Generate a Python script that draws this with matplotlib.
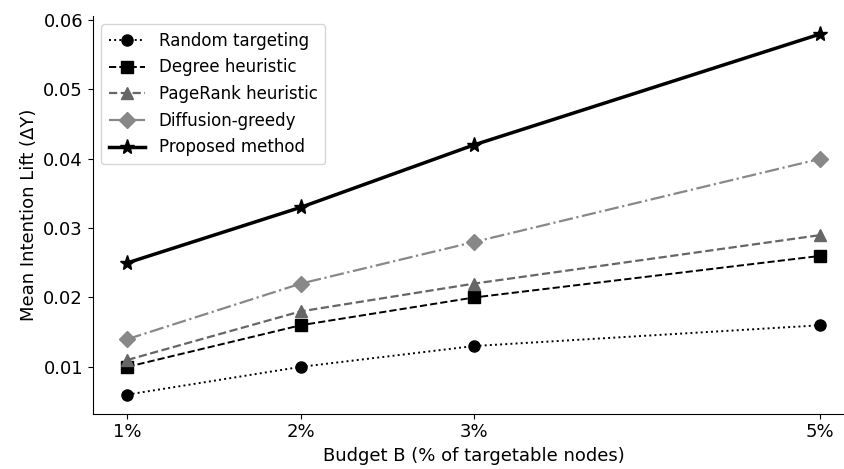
import matplotlib
matplotlib.use("Agg")
import matplotlib.pyplot as plt

budgets = [1, 2, 3, 5]
budget_labels = ["1%", "2%", "3%", "5%"]

random_lift = [0.006, 0.010, 0.013, 0.016]
degree_lift = [0.010, 0.016, 0.020, 0.026]
pagerank_lift = [0.011, 0.018, 0.022, 0.029]
diffusion_lift = [0.014, 0.022, 0.028, 0.040]
proposed_lift = [0.025, 0.033, 0.042, 0.058]

fig = plt.figure(figsize=(8.44, 4.69), dpi=100)
ax = fig.add_axes([0.110, 0.118, 0.903, 0.848])

ax.plot(budgets, random_lift, linestyle=":", marker="o", color="black",
        markersize=8, linewidth=1.4, label="Random targeting")
ax.plot(budgets, degree_lift, linestyle="--", marker="s", color="black",
        markersize=8, linewidth=1.4, label="Degree heuristic")
ax.plot(budgets, pagerank_lift, linestyle="--", marker="^", color="#666666",
        markersize=8, linewidth=1.6, label="PageRank heuristic")
ax.plot(budgets, diffusion_lift, linestyle="-.", marker="D", color="#888888",
        markersize=8, linewidth=1.6, label="Diffusion-greedy")
ax.plot(budgets, proposed_lift, linestyle="-", marker="*", color="black",
        markersize=11, linewidth=2.5, label="Proposed method")

ax.set_xlim(0.8, 5.2)
ax.set_ylim(0.00325, 0.0606)
ax.set_xticks(budgets)
ax.set_xticklabels(budget_labels)
ax.set_yticks([0.01, 0.02, 0.03, 0.04, 0.05, 0.06])
ax.tick_params(labelsize=13)

ax.set_xlabel("Budget B (% of targetable nodes)", fontsize=13)
ax.set_ylabel("Mean Intention Lift (ΔY)", fontsize=13)

ax.spines["top"].set_visible(False)
ax.spines["right"].set_visible(False)

ax.legend(loc="upper left", fontsize=12, handlelength=2.2,
          borderpad=0.45, labelspacing=0.52)

fig.savefig("out.png", dpi=100)
